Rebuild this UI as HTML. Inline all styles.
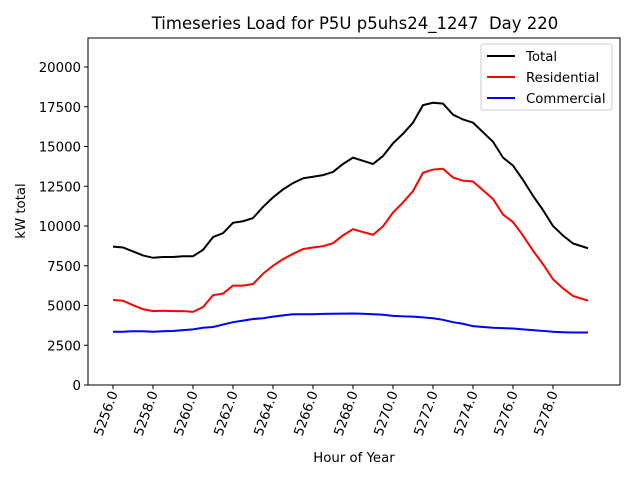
<!DOCTYPE html>
<html><head><meta charset="utf-8"><style>body{margin:0;background:#fff}svg{display:block;font-family:"DejaVu Sans","Liberation Sans",sans-serif}</style></head>
<body>
<svg id="c" width="640" height="480"></svg>
<script>
const total=[8700,8650,8400,8150,8000,8050,8050,8100,8100,8500,9300,9550,10200,10300,10500,11200,11800,12300,12700,13000,13100,13200,13400,13900,14300,14100,13900,14400,15200,15800,16500,17600,17750,17700,17000,16700,16500,15900,15300,14300,13800,12900,11900,11000,10000,9400,8900,8600];
const residential=[5350,5300,5020,4770,4650,4670,4650,4650,4600,4900,5650,5750,6250,6250,6350,7000,7500,7920,8250,8550,8650,8730,8920,9410,9800,9620,9450,9980,10850,11480,12200,13350,13550,13600,13050,12850,12800,12250,11700,10720,10250,9400,8450,7600,6650,6080,5600,5300];
const commercial=[3350,3350,3380,3380,3350,3380,3400,3450,3500,3600,3650,3800,3950,4050,4150,4200,4300,4380,4450,4450,4450,4470,4480,4490,4500,4480,4450,4420,4350,4320,4300,4250,4200,4100,3950,3850,3700,3650,3600,3580,3550,3500,3450,3400,3350,3320,3300,3300];
const hours=[];for(let i=0;i<47;i++)hours.push(5256+i*0.5);hours.push(5279.75);
const yTicks=[0,2500,5000,7500,10000,12500,15000,17500,20000];
const xTicks=[5256,5258,5260,5262,5264,5266,5268,5270,5272,5274,5276,5278];
const L=88,R=620,T=38,B=385;
const X=v=>113+(v-5256)*20;
const Y=v=>B-v/20000*318;
const s=document.getElementById('c');const NS='http://www.w3.org/2000/svg';
function mk(t,a,p){const e=document.createElementNS(NS,t);for(const k in a)e.setAttribute(k,a[k]);(p||s).appendChild(e);return e;}
let e=mk('rect',{x:L,y:T,width:R-L,height:B-T,fill:'none',stroke:'#000','stroke-width':1});


yTicks.forEach(v=>{const y=Y(v);mk('line',{x1:L-4,x2:L,y1:y,y2:y,stroke:'#000'});
const t=mk('text',{x:L-7,y:y+5,'text-anchor':'end','font-size':13.3});t.textContent=v;

});
xTicks.forEach(v=>{const x=X(v);mk('line',{x1:x,x2:x,y1:B,y2:B+4,stroke:'#000'});
const t=mk('text',{x:0,y:0,'text-anchor':'end','font-size':13.3,transform:`translate(${x+5},${B+8}) rotate(-70)`});t.textContent=v.toFixed(1);

});
[[total,'#000','total-line'],[residential,'#f00','residential-line'],[commercial,'#00f','commercial-line']].forEach(([d,c,n])=>{
const p=mk('polyline',{points:d.map((v,i)=>X(hours[i])+','+Y(v)).join(' '),fill:'none',stroke:c,'stroke-width':2});

});
let t=mk('text',{x:355,y:29,'text-anchor':'middle','font-size':16.5});t.textContent='Timeseries Load for P5U p5uhs24_1247\u00a0 Day 220';


t=mk('text',{x:354,y:462,'text-anchor':'middle','font-size':13.3});t.textContent='Hour of Year';


t=mk('text',{x:0,y:0,'text-anchor':'middle','font-size':13.3,transform:'translate(25,211) rotate(-90)'});t.textContent='kW total';


const g=mk('g',{});


mk('rect',{x:481,y:44,width:131,height:66,rx:2,fill:'#fff',stroke:'#ccc'},g);
[['Total','#000'],['Residential','#f00'],['Commercial','#00f']].forEach(([n,c],i)=>{const y=56+i*21;
mk('line',{x1:487,x2:515,y1:y,y2:y,stroke:c,'stroke-width':2},g);
const tt=mk('text',{x:526,y:y+5,'font-size':13.3},g);tt.textContent=n;

});
</script>
</body></html>
